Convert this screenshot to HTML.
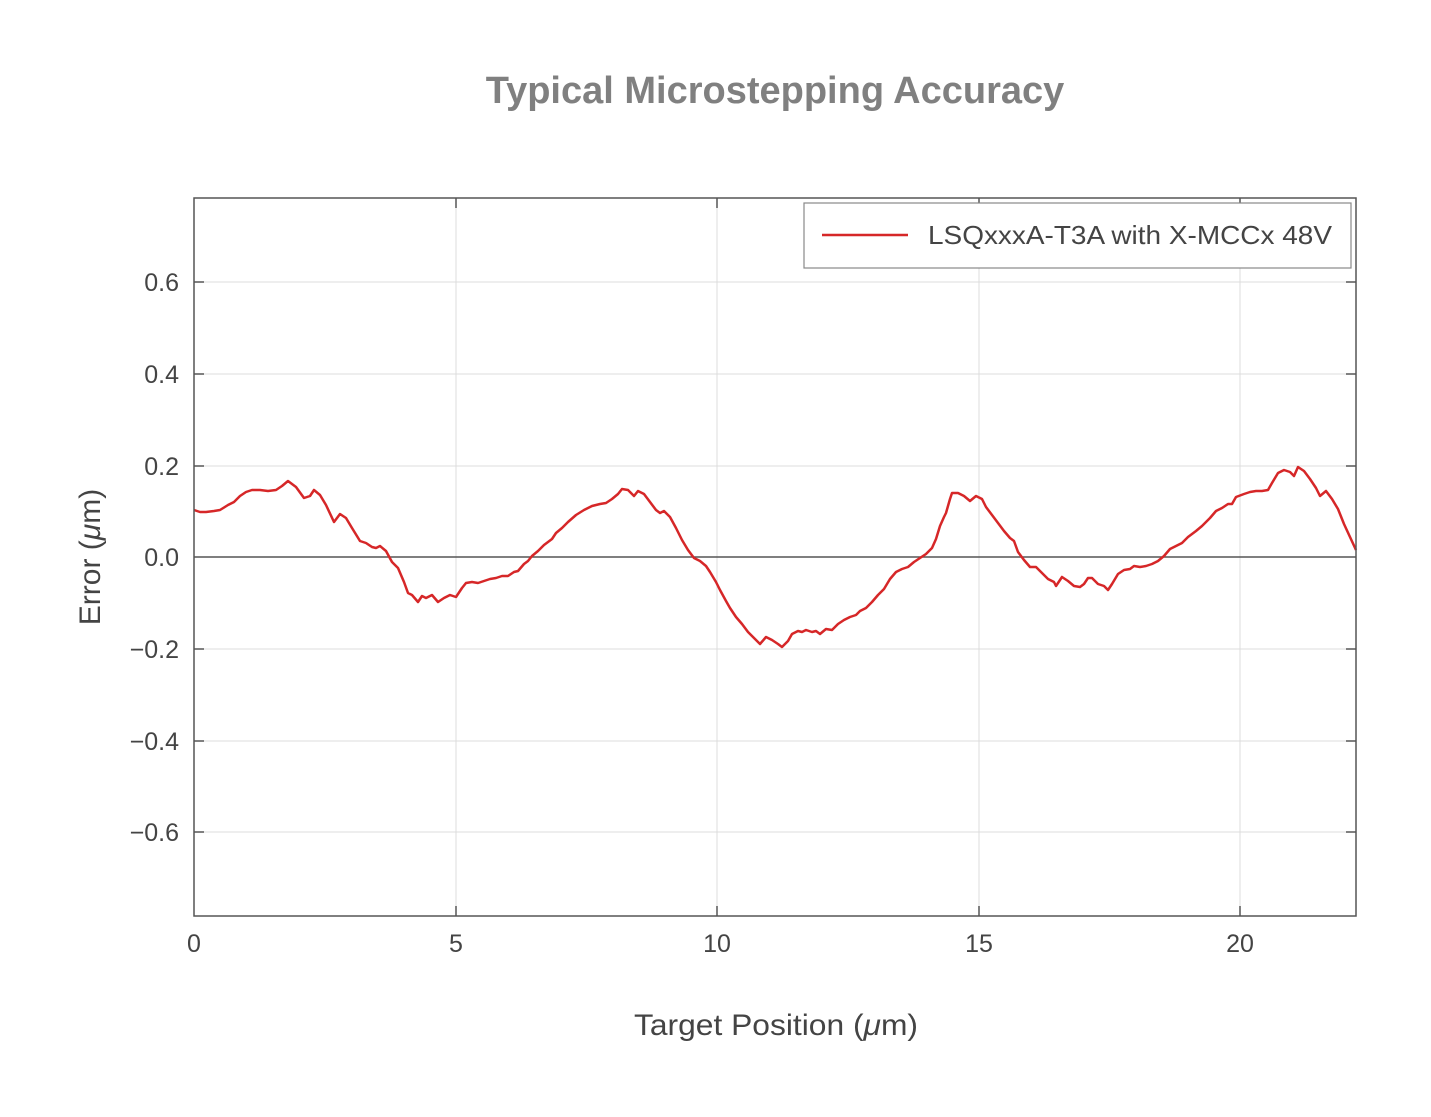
<!DOCTYPE html>
<html><head><meta charset="utf-8"><style>body{margin:0;background:#fff}svg{display:block}</style></head><body>
<svg width="1431" height="1117" xmlns="http://www.w3.org/2000/svg" font-family="Liberation Sans, Arial, sans-serif">
<rect width="1431" height="1117" fill="#fff"/>
<text x="775" y="103" text-anchor="middle" font-size="38" font-weight="bold" fill="#808080">Typical Microstepping Accuracy</text>
<g stroke="#dcdcdc" stroke-width="1">
<line x1="456" y1="198" x2="456" y2="916"/><line x1="717" y1="198" x2="717" y2="916"/><line x1="979" y1="198" x2="979" y2="916"/><line x1="1240" y1="198" x2="1240" y2="916"/>
<line x1="194" y1="282" x2="1356" y2="282"/><line x1="194" y1="374" x2="1356" y2="374"/><line x1="194" y1="466" x2="1356" y2="466"/><line x1="194" y1="649" x2="1356" y2="649"/><line x1="194" y1="741" x2="1356" y2="741"/><line x1="194" y1="832" x2="1356" y2="832"/>
</g>
<line x1="194" y1="557" x2="1356" y2="557" stroke="#555" stroke-width="1.5"/>
<g stroke="#555" stroke-width="1.5">
<line x1="456" y1="916" x2="456" y2="906"/><line x1="717" y1="916" x2="717" y2="906"/><line x1="979" y1="916" x2="979" y2="906"/><line x1="1240" y1="916" x2="1240" y2="906"/>
<line x1="456" y1="198" x2="456" y2="208"/><line x1="717" y1="198" x2="717" y2="208"/><line x1="979" y1="198" x2="979" y2="208"/><line x1="1240" y1="198" x2="1240" y2="208"/>
<line x1="194" y1="282" x2="204" y2="282"/><line x1="194" y1="374" x2="204" y2="374"/><line x1="194" y1="466" x2="204" y2="466"/><line x1="194" y1="649" x2="204" y2="649"/><line x1="194" y1="741" x2="204" y2="741"/><line x1="194" y1="832" x2="204" y2="832"/>
<line x1="1356" y1="282" x2="1346" y2="282"/><line x1="1356" y1="374" x2="1346" y2="374"/><line x1="1356" y1="466" x2="1346" y2="466"/><line x1="1356" y1="649" x2="1346" y2="649"/><line x1="1356" y1="741" x2="1346" y2="741"/><line x1="1356" y1="832" x2="1346" y2="832"/>
</g>
<polyline fill="none" stroke="#d62728" stroke-width="2.5" stroke-linejoin="round" points="194,510 200,512 206,512 214,511 220,510 228,505 234,502 240,496 246,492 252,490 260,490 268,491 276,490 282,486 288,481 296,487 304,498 310,496 314,490 320,495 326,505 334,522 340,514 346,518 352,528 360,541 366,543 372,547 376,548 380,546 386,551 392,562 398,568 404,582 408,593 412,595 418,602 422,596 426,598 432,595 438,602 444,598 450,595 456,597 462,588 466,583 472,582 478,583 484,581 490,579 496,578 502,576 508,576 514,572 518,571 524,564 528,561 532,556 538,551 544,545 552,539 556,533 562,528 568,522 576,515 584,510 592,506 600,504 606,503 612,499 618,494 622,489 628,490 634,496 638,491 644,494 650,502 656,510 660,513 664,511 670,517 676,528 682,540 688,550 694,558 700,561 706,566 710,572 716,582 720,590 726,601 730,608 736,617 742,624 748,632 754,638 760,644 766,637 772,640 778,644 782,647 788,641 792,634 798,631 802,632 806,630 812,632 816,631 820,634 826,629 832,630 838,624 844,620 850,617 856,615 860,611 866,608 872,602 878,595 884,589 890,579 896,572 902,569 908,567 914,562 920,558 926,554 932,548 936,539 940,526 944,517 946,513 950,499 952,493 958,493 964,496 970,501 976,496 982,499 986,507 992,515 998,523 1004,531 1010,538 1014,541 1018,552 1024,560 1030,567 1036,567 1042,573 1048,579 1054,582 1056,586 1062,577 1068,581 1074,586 1080,587 1084,584 1088,578 1092,578 1098,584 1104,586 1108,590 1112,584 1118,574 1124,570 1130,569 1134,566 1140,567 1146,566 1152,564 1158,561 1164,556 1170,549 1176,546 1182,543 1188,537 1196,531 1202,526 1210,518 1216,511 1222,508 1228,504 1232,504 1236,497 1244,494 1250,492 1256,491 1262,491 1268,490 1272,483 1278,473 1284,470 1290,472 1294,476 1298,467 1304,471 1310,479 1316,488 1320,496 1326,491 1332,499 1338,509 1344,524 1350,537 1356,550"/>
<rect x="194" y="198" width="1162" height="718" fill="none" stroke="#555" stroke-width="1.5"/>
<rect x="804" y="203" width="547" height="65" fill="#fff" stroke="#888" stroke-width="1.2"/>
<line x1="822" y1="235" x2="908" y2="235" stroke="#d62728" stroke-width="2.5"/>
<text x="928" y="244" font-size="26" fill="#444" textLength="404" lengthAdjust="spacingAndGlyphs">LSQxxxA-T3A with X-MCCx 48V</text>
<g font-size="25" fill="#444" text-anchor="end">
<text x="179" y="291">0.6</text><text x="179" y="383">0.4</text><text x="179" y="475">0.2</text><text x="179" y="566">0.0</text><text x="179" y="658">−0.2</text><text x="179" y="750">−0.4</text><text x="179" y="841">−0.6</text>
</g>
<g font-size="25" fill="#444" text-anchor="middle">
<text x="194" y="952">0</text><text x="456" y="952">5</text><text x="717" y="952">10</text><text x="979" y="952">15</text><text x="1240" y="952">20</text>
</g>
<text x="776" y="1035" text-anchor="middle" font-size="30" fill="#444" textLength="284" lengthAdjust="spacingAndGlyphs">Target Position (<tspan font-style="italic">μ</tspan>m)</text>
<text transform="translate(100,557) rotate(-90)" text-anchor="middle" font-size="30" fill="#444">Error (<tspan font-style="italic">μ</tspan>m)</text>
</svg>
</body></html>
